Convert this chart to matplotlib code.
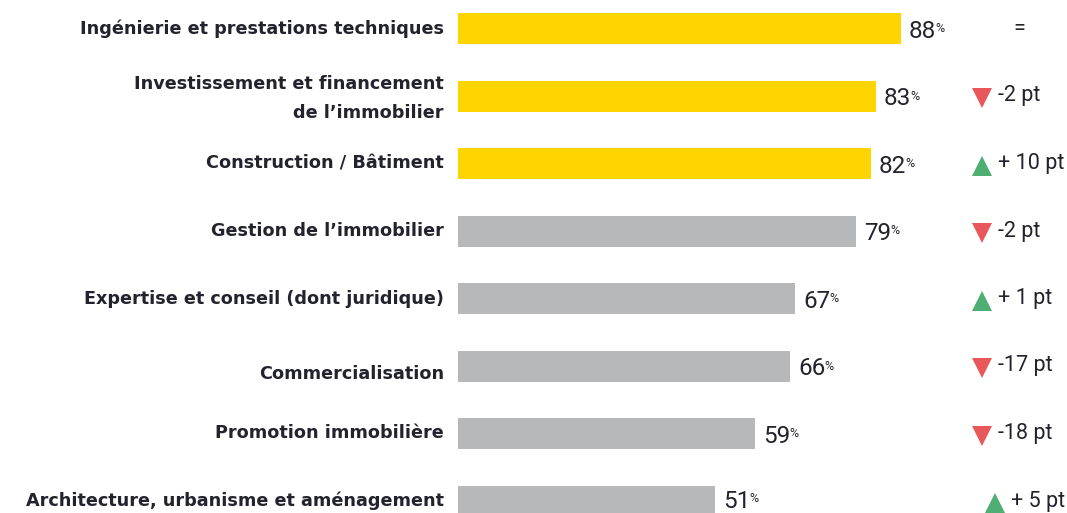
import matplotlib
matplotlib.use("Agg")
import matplotlib.pyplot as plt

categories = [
    "Ingénierie et prestations techniques",
    "Investissement et financement\nde l\u2019immobilier",
    "Construction / Bâtiment",
    "Gestion de l\u2019immobilier",
    "Expertise et conseil (dont juridique)",
    "Commercialisation",
    "Promotion immobilière",
    "Architecture, urbanisme et aménagement",
]
values = [88, 83, 82, 79, 67, 66, 59, 51]
changes = ["=", "-2 pt", "+ 10 pt", "-2 pt", "+ 1 pt", "-17 pt", "-18 pt", "+ 5 pt"]
directions = [0, -1, 1, -1, 1, -1, -1, 1]
highlight = [True, True, True, False, False, False, False, False]

YELLOW = "#FFD500"
GRAY = "#B6B8BA"
DARK = "#23232D"
RED = "#E8585A"
GREEN = "#4FAF72"

W, H = 1067, 513
fig = plt.figure(figsize=(W / 100, H / 100), dpi=100)
ax = fig.add_axes([0, 0, 1, 1])

px_per_unit = 443 / 88.0
x0_px = 458
ax.set_xlim(-x0_px / px_per_unit, (W - x0_px) / px_per_unit)
row_px = 67.5
top_px = 28.5
ax.set_ylim((H - top_px) / row_px, -top_px / row_px)
ax.axis("off")

def px2x(px):
    return (px - x0_px) / px_per_unit

ypos = list(range(len(values)))
colors = [YELLOW if h else GRAY for h in highlight]
ax.barh(ypos, values, height=31 / row_px, color=colors, left=0)

label_font = dict(family=["DejaVu Sans"], fontweight="bold", fontsize=12.7, color=DARK)
value_font = dict(family=["Roboto", "DejaVu Sans"], fontsize=17.5, color=DARK)
change_font = dict(family=["Roboto", "DejaVu Sans"], fontsize=15.5, color=DARK)

for i, (cat, v, ch, d) in enumerate(zip(categories, values, changes, directions)):
    dy = 0.0
    if i == 1:
        dy = 0.04
    if i == 5:
        dy = 0.12
    ax.text(px2x(444), i + dy, cat, ha="right", va="center", linespacing=1.8, **label_font)
    vdy = 0.04 if i < 7 else 0.0
    t = ax.text(v + 8 / px_per_unit, i + vdy, f"{v}", ha="left", va="center", **value_font)
    ax.annotate("%", xy=(0.97, 0.9), xycoords=t, ha="left", va="top",
                family=["Roboto", "DejaVu Sans"], fontsize=9, color=DARK)
    if d == 0:
        ax.text(px2x(1019), i, ch, ha="center", va="center", **change_font)
    else:
        tri_px = 982 if i != 7 else 995
        marker = "^" if d > 0 else "v"
        col = GREEN if d > 0 else RED
        ax.plot([px2x(tri_px)], [i + 0.03], marker=marker, color=col, markersize=14,
                linestyle="none", markeredgewidth=0)
        ax.text(px2x(tri_px + 16), i, ch, ha="left", va="center", **change_font)

fig.savefig("out.png", dpi=100)
